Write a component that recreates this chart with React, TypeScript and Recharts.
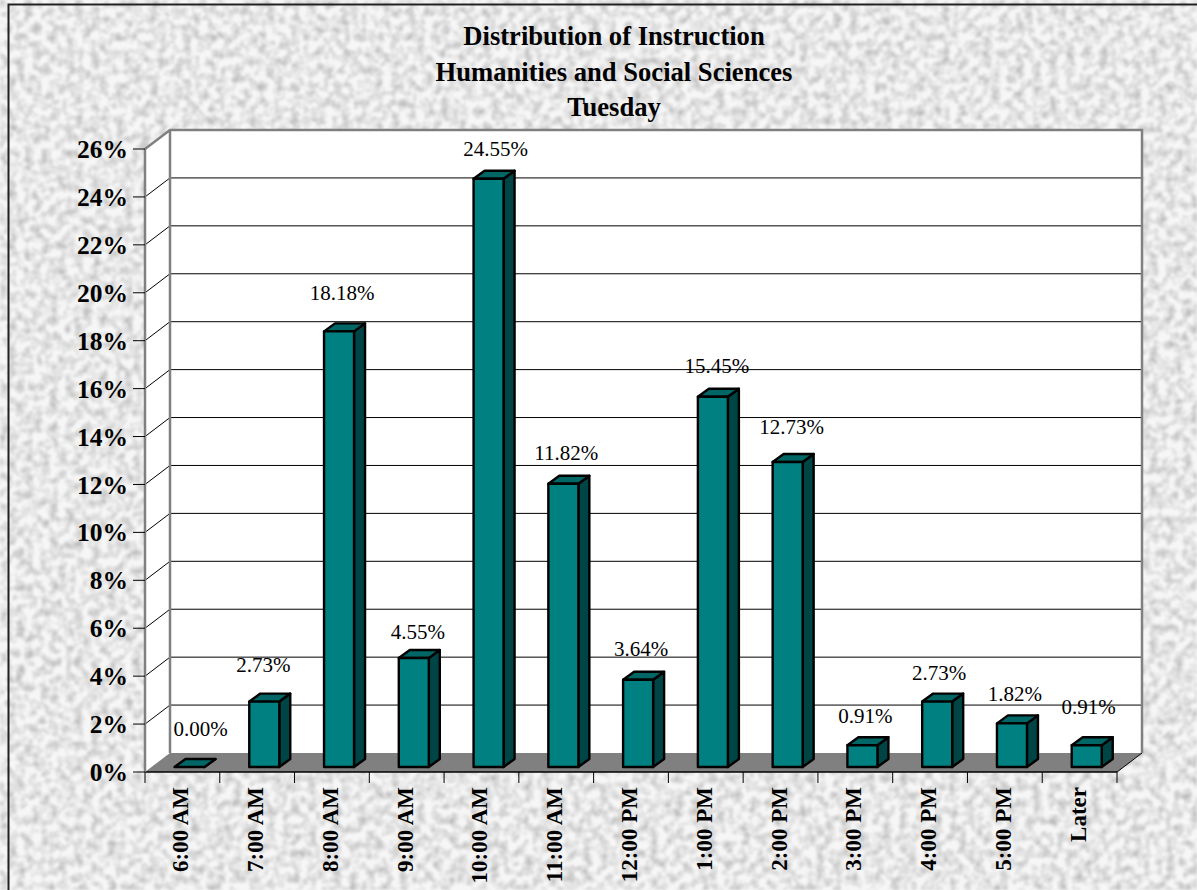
import { BarChart, Bar, XAxis, YAxis, CartesianGrid, ReferenceArea, LabelList } from 'recharts'

const titleLines = ['Distribution of Instruction', 'Humanities and Social Sciences', 'Tuesday']
const hours = ['6:00 AM', '7:00 AM', '8:00 AM', '9:00 AM', '10:00 AM', '11:00 AM', '12:00 PM', '1:00 PM', '2:00 PM', '3:00 PM', '4:00 PM', '5:00 PM', 'Later']
const shares = [0, 2.73, 18.18, 4.55, 24.55, 11.82, 3.64, 15.45, 12.73, 0.91, 2.73, 1.82, 0.91]
const percentTicks = [0, 2, 4, 6, 8, 10, 12, 14, 16, 18, 20, 22, 24, 26]

// hand placed data labels in the original, relative to the top of each bar
const labelLift = [37, 36, 38, 25, 29, 30, 30, 30, 34, 29, 28, 29, 38]
const labelShift = [11, -1, 3, 4, 7, 3, 3, 4, 4, 3, 2, 3, 2]

const rows = hours.map((hour, i) => ({ hour, share: shares[i] }))

const FONT = '"Liberation Serif", serif'
const PLOT_TOP = 149
const PLOT_BOTTOM = 772
const WALL_X = 25
const WALL_Y = 19
const BAR_X = 7.5
const BAR_Y = 5
const SIDE_X = 11
const SIDE_Y = 8

// side wall, back wall and floor behind the bars
function Walls({ x, y, width, height }: any) {
  const bottom = y + height
  const right = x + width
  return (
    <g>
      <polygon points={`${x},${bottom} ${x + WALL_X},${bottom - WALL_Y} ${x + WALL_X},${y - WALL_Y} ${x},${y}`} fill="#fff" />
      <rect x={x + WALL_X} y={y - WALL_Y} width={width} height={height} fill="#fff" />
      <polygon points={`${x},${bottom} ${x + WALL_X},${bottom - WALL_Y} ${right + WALL_X},${bottom - WALL_Y} ${right},${bottom}`} fill="#808080" />
      <path d={`M${right},${bottom} L${right + WALL_X},${bottom - WALL_Y}`} stroke="#000" strokeWidth={1} />
    </g>
  )
}

// the wall outline goes on top of the grid lines
function WallEdges({ x, y, width, height }: any) {
  const bottom = y + height
  const right = x + width
  return (
    <path
      d={`M${x},${y} L${x + WALL_X},${y - WALL_Y} H${right + WALL_X} V${bottom - WALL_Y} M${x + WALL_X},${y - WALL_Y} V${bottom - WALL_Y}`}
      fill="none"
      stroke="#808080"
      strokeWidth={2.5}
    />
  )
}

function GridLine({ x1, x2, y1 }: any) {
  // top and bottom ticks have no line across the wall
  if (Math.abs(y1 - PLOT_TOP) < 1 || Math.abs(y1 - PLOT_BOTTOM) < 1) return <g />
  return (
    <path d={`M${x1},${y1} L${x1 + WALL_X},${y1 - WALL_Y} H${x2 + WALL_X}`} fill="none" stroke="#000" strokeWidth={1} />
  )
}

function Bar3D({ x, y, width, height }: any) {
  const left = x + BAR_X
  const top = y - BAR_Y
  const right = left + width
  const bottom = top + height
  return (
    <g stroke="#000" strokeWidth={2.4} strokeLinejoin="round">
      <polygon points={`${right},${top} ${right + SIDE_X},${top - SIDE_Y} ${right + SIDE_X},${bottom - SIDE_Y} ${right},${bottom}`} fill="#004545" />
      <polygon points={`${left},${top} ${left + SIDE_X},${top - SIDE_Y} ${right + SIDE_X},${top - SIDE_Y} ${right},${top}`} fill="#006666" />
      <rect x={left} y={top} width={width} height={height} fill="#008080" />
    </g>
  )
}

function ShareLabel({ x, y, width, index, value }: any) {
  return (
    <text
      x={x + width / 2 + BAR_X + labelShift[index]}
      y={y - BAR_Y - labelLift[index] - 1}
      dy="0.35em"
      textAnchor="middle"
      fontFamily={FONT}
      fontSize={21}
      fill="#000"
    >
      {value.toFixed(2)}%
    </text>
  )
}

function HourTick({ x, y, payload, index }: any) {
  const half = payload.offset || 972 / 13 / 2
  return (
    <g>
      <line x1={x - half} y1={y - 8} x2={x - half} y2={y + 3} stroke="#000" />
      {index === hours.length - 1 && <line x1={x + half} y1={y - 8} x2={x + half} y2={y + 3} stroke="#000" />}
      <text
        transform={`translate(${x + 6},${y + 7}) rotate(-90)`}
        textAnchor="end"
        fontFamily={FONT}
        fontSize={23}
        fontWeight="bold"
        fill="#000"
      >
        {payload.value}
      </text>
    </g>
  )
}

export default function App() {
  return (
    <div style={{ position: 'absolute', left: 0, top: 0, width: 1197, height: 890, overflow: 'hidden' }}>
      <svg width={1197} height={890} style={{ position: 'absolute', left: 0, top: 0 }}>
        <filter id="stone" x="0" y="0" width="100%" height="100%">
          <feTurbulence type="fractalNoise" baseFrequency="0.12" numOctaves={2} seed={4} />
          <feColorMatrix type="matrix" values="0 0 0 0 0  0 0 0 0 0  0 0 0 0 0  1.6 0 0 0 -0.6" />
          <feGaussianBlur stdDeviation={0.8} />
        </filter>
        <rect width={1197} height={890} fill="#f6f6f6" />
        <rect width={1197} height={890} filter="url(#stone)" opacity={0.3} />
        <path d="M8.5,890 V4.5 H1197" fill="none" stroke="#222" strokeWidth={2} />
      </svg>
      <div style={{ position: 'absolute', left: 0, top: 0 }}>
        <BarChart
          width={1197}
          height={890}
          data={rows}
          margin={{ top: PLOT_TOP, right: 80, bottom: 0, left: 0 }}
          barSize={30}
        >
          {titleLines.map((line, i) => (
            <text key={line} x={614} y={36 + i * 35.5} dy="0.35em" textAnchor="middle" fontFamily={FONT} fontSize={26.6} fontWeight="bold" fill="#000">
              {line}
            </text>
          ))}
          <ReferenceArea y1={0} y2={26} shape={Walls} fill="none" stroke="none" zIndex={-200} />
          <CartesianGrid vertical={false} horizontal={GridLine} />
          <ReferenceArea y1={0} y2={26} shape={WallEdges} fill="none" stroke="none" zIndex={-50} />
          <XAxis
            dataKey="hour"
            height={118}
            interval={0}
            tick={HourTick}
            tickLine={false}
            axisLine={{ stroke: '#000', strokeWidth: 1.5 }}
          />
          <YAxis
            width={145}
            domain={[0, 26]}
            ticks={percentTicks}
            interval={0}
            tickFormatter={(v) => `${v}%`}
            tickSize={12}
            tickMargin={5}
            tickLine={{ stroke: '#000' }}
            axisLine={{ stroke: '#808080', strokeWidth: 2.5 }}
            tick={{ fontFamily: FONT, fontSize: 25.5, fontWeight: 'bold', fill: '#000' }}
          />
          <Bar dataKey="share" shape={Bar3D} isAnimationActive={false}>
            <LabelList dataKey="share" content={ShareLabel} />
          </Bar>
        </BarChart>
      </div>
    </div>
  )
}
